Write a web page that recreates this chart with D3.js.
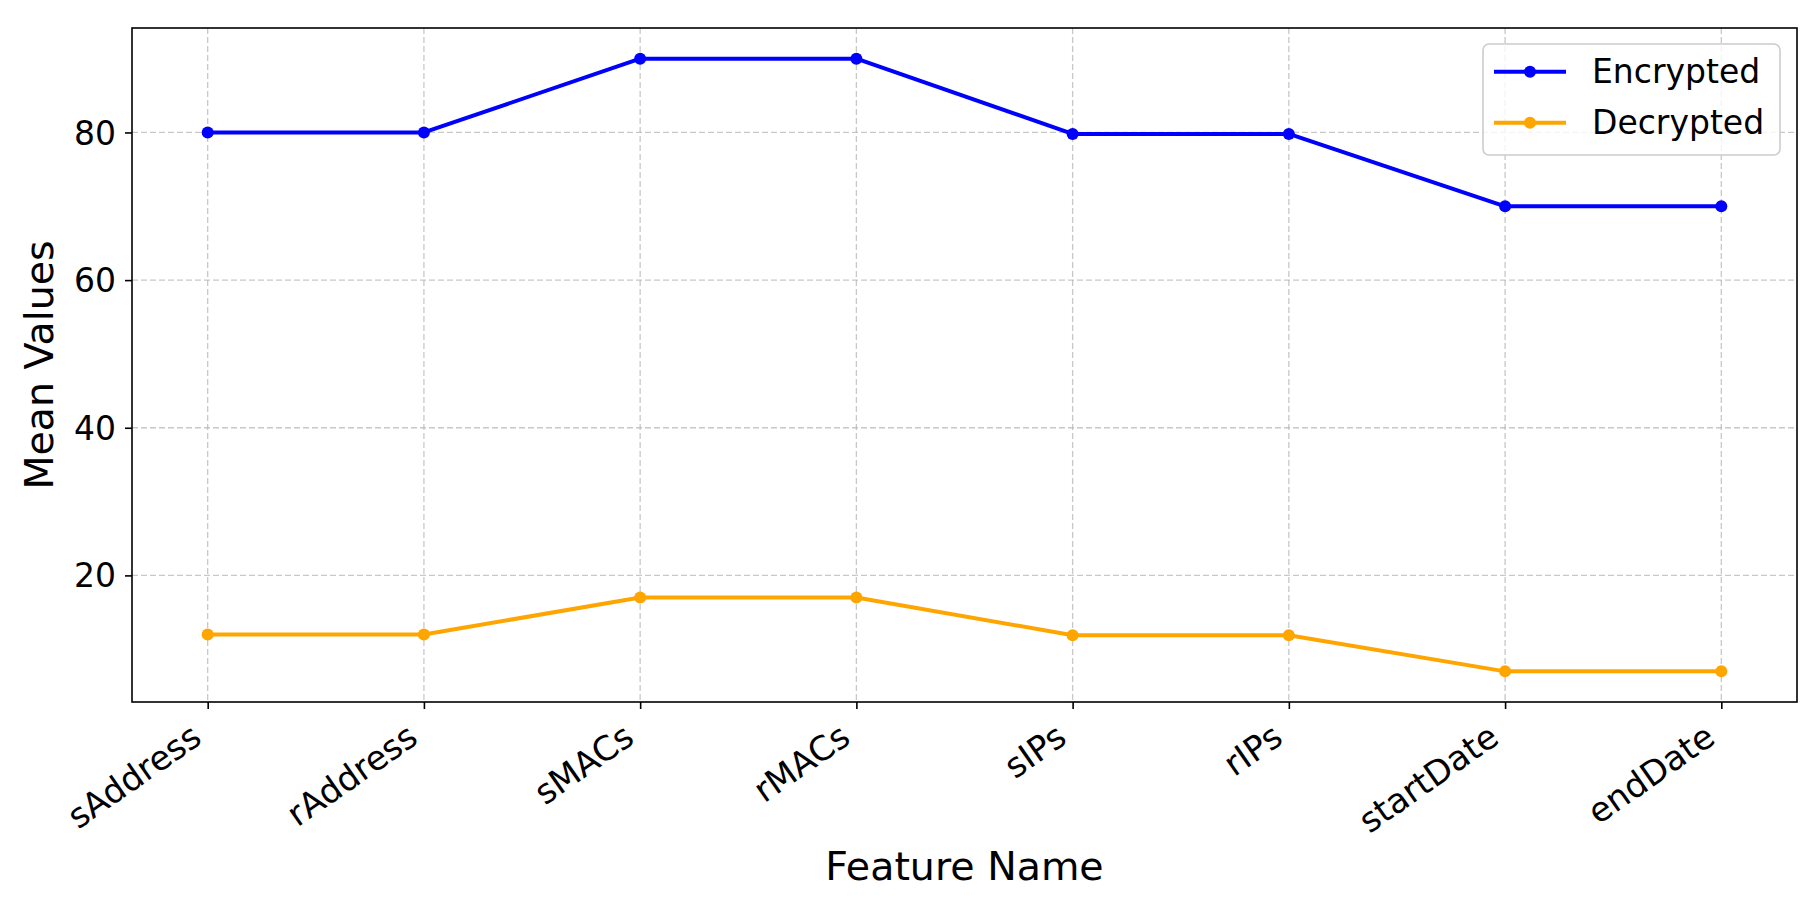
<!DOCTYPE html>
<html>
<head>
<meta charset="utf-8">
<script src="https://cdn.jsdelivr.net/npm/d3@7"></script>
<style>
  html, body { margin: 0; padding: 0; background: #fff; }
  svg { display: block; font-family: "DejaVu Sans", sans-serif; }
</style>
</head>
<body>
<svg id="chart" width="1820" height="911"></svg>
<script>
const categories = ["sAddress", "rAddress", "sMACs", "rMACs", "sIPs", "rIPs", "startDate", "endDate"];
const encrypted = [80, 80, 90, 90, 79.8, 79.8, 70, 70];
const decrypted = [12, 12, 17, 17, 11.9, 11.9, 7, 7];
const yTicks = [20, 40, 60, 80];
const seriesNames = ["Encrypted", "Decrypted"];
const seriesColors = ["#0000ff", "#ffa500"];
const xLabel = "Feature Name";
const yLabel = "Mean Values";

const svg = d3.select("#chart");
const L = 132, T = 28, R = 1797, B = 702;

const x = d3.scalePoint().domain(categories).range([L, R]).padding(0.35);
const allVals = encrypted.concat(decrypted);
const vmin = d3.min(allVals), vmax = d3.max(allVals);
const m = (vmax - vmin) * 0.05;
const y = d3.scaleLinear().domain([vmin - m, vmax + m]).range([B, T]);

// grid
const grid = svg.append("g").attr("stroke", "#b0b0b0").attr("stroke-opacity", 0.7)
  .attr("stroke-width", 1.3).attr("stroke-dasharray", "6,3").attr("fill", "none");
categories.forEach(c => {
  grid.append("line").attr("x1", x(c)).attr("x2", x(c)).attr("y1", T).attr("y2", B);
});
yTicks.forEach(v => {
  grid.append("line").attr("x1", L).attr("x2", R).attr("y1", y(v)).attr("y2", y(v));
});

// series
const series = [encrypted, decrypted];
const line = d3.line().x((d, i) => x(categories[i])).y(d => y(d));
series.forEach((s, k) => {
  svg.append("path").datum(s).attr("d", line).attr("fill", "none")
    .attr("stroke", seriesColors[k]).attr("stroke-width", 4)
    .attr("stroke-linejoin", "round").attr("stroke-linecap", "square");
  svg.append("g").selectAll("circle").data(s).join("circle")
    .attr("cx", (d, i) => x(categories[i])).attr("cy", d => y(d))
    .attr("r", 6).attr("fill", seriesColors[k]);
});

// spines
svg.append("rect").attr("x", L).attr("y", T).attr("width", R - L).attr("height", B - T)
  .attr("fill", "none").attr("stroke", "#000").attr("stroke-width", 1.6);

// y axis
const yAxis = d3.axisLeft(y).tickValues(yTicks).tickSize(7).tickPadding(9).tickFormat(d3.format("d"));
const gy = svg.append("g").attr("transform", `translate(${L},0)`).call(yAxis);
gy.select(".domain").remove();
gy.selectAll(".tick line").attr("stroke", "#000").attr("stroke-width", 1.6);
gy.selectAll(".tick text").attr("font-size", 33).attr("fill", "#000")
  .attr("font-family", "DejaVu Sans").attr("dy", "0.35em");

// x axis
const xAxis = d3.axisBottom(x).tickSize(7).tickPadding(7);
const gx = svg.append("g").attr("transform", `translate(0,${B})`).call(xAxis);
gx.select(".domain").remove();
gx.selectAll(".tick line").attr("stroke", "#000").attr("stroke-width", 1.6);
const fs = 34, asc = 0.93 * fs, desc = 0.236 * fs;
const ang = 35 * Math.PI / 180;
gx.selectAll(".tick text")
  .attr("font-size", fs).attr("fill", "#000").attr("font-family", "DejaVu Sans")
  .attr("text-anchor", "end").attr("dy", null).attr("y", null)
  .attr("transform", () => {
    const bx = -Math.sin(ang) * desc;
    const by = 14 + Math.cos(ang) * asc;
    return `translate(${bx},${by}) rotate(-35)`;
  });

// axis labels
svg.append("text").attr("x", (L + R) / 2).attr("y", 880).attr("text-anchor", "middle")
  .attr("font-size", 39.5).attr("fill", "#000").text(xLabel);
svg.append("text").attr("transform", `translate(53,${(T + B) / 2}) rotate(-90)`)
  .attr("text-anchor", "middle").attr("font-size", 39.5).attr("fill", "#000").text(yLabel);

// legend
const lg = svg.append("g");
lg.append("rect").attr("x", 1483).attr("y", 44).attr("width", 297).attr("height", 111)
  .attr("rx", 6).attr("fill", "#fff").attr("fill-opacity", 0.8)
  .attr("stroke", "#cccccc").attr("stroke-width", 1.6);
seriesNames.forEach((name, k) => {
  const yy = 71.7 + k * 51;
  lg.append("line").attr("x1", 1494).attr("x2", 1566).attr("y1", yy).attr("y2", yy)
    .attr("stroke", seriesColors[k]).attr("stroke-width", 4);
  lg.append("circle").attr("cx", 1530).attr("cy", yy).attr("r", 6).attr("fill", seriesColors[k]);
  lg.append("text").attr("x", 1592).attr("y", yy).attr("dy", "0.35em")
    .attr("font-size", 33).attr("fill", "#000").text(name);
});
</script>
</body>
</html>
